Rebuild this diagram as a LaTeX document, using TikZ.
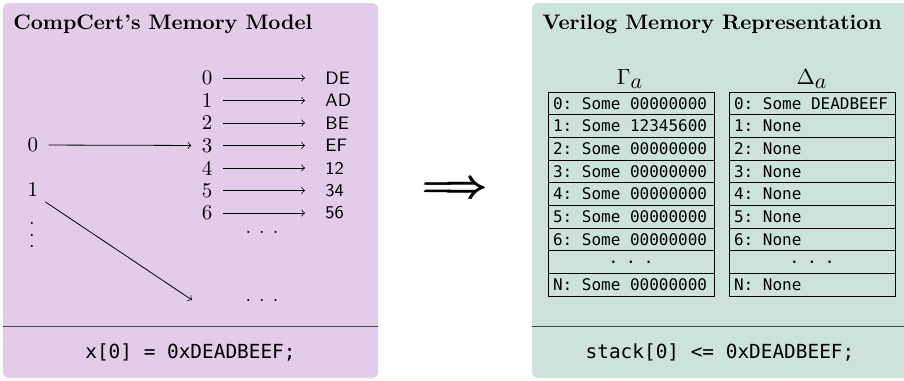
\documentclass[tikz,border=0pt]{standalone}
\usepackage{fontspec}
\usepackage{amsmath}
\usepackage{xcolor}
\usepackage{tikz}
\newfontfamily\codefont{DejaVu Sans Mono}
\definecolor{lilacbg}{RGB}{226,204,232}
\definecolor{mintbg}{RGB}{204,227,220}
\definecolor{rulegray}{RGB}{70,70,70}
\newcommand{\wdots}{.\hspace{4pt}.\hspace{4pt}.}
\newcommand{\cellt}[1]{\makebox[78pt][l]{#1}}
\tikzset{
  panel/.style={rounded corners=3pt},
  title/.style={anchor=base west, inner sep=0pt, font=\bfseries\fontsize{10.5}{12}\selectfont},
  addr/.style={inner sep=0pt, font=\fontsize{10.5}{12}\selectfont},
  byteval/.style={inner sep=0pt, anchor=west, font=\sffamily\fontsize{9}{10}\selectfont},
  ptr/.style={->, thin},
  memcell/.style={draw, line width=0.5pt, rectangle, minimum height=11.33pt, minimum width=83pt,
    inner xsep=2.5pt, inner ysep=0pt, font=\codefont\fontsize{8}{9}\selectfont\frenchspacing},
  code/.style={font=\codefont\fontsize{9.7}{12}\selectfont\frenchspacing},
  setname/.style={inner sep=0pt, font=\fontsize{11}{12}\selectfont},
}
\begin{document}
\begin{tikzpicture}[x=0.5pt,y=-0.5pt]
\useasboundingbox (0,0) rectangle (904,380);
%PANELS
\fill[panel, lilacbg] (3,3) rectangle (378,378);
\fill[panel, mintbg] (532,3) rectangle (912,378);
\draw[rulegray] (3,326) -- (378,326);
\draw[rulegray] (532,326) -- (904,326);
\node[title] (lefttitle) at (13,29) {CompCert's Memory Model};
\node[title] (righttitle) at (542,29) {Verilog Memory Representation};
%LEFT
\foreach \v [count=\i from 0] in {DE,AD,BE,EF,12,34,56} {
  \node[addr] (a\i) at (207,78+22.5*\i) {\i};
  \node[byteval] (b\i) at (325,78+22.5*\i) {\v};
  \draw[ptr, shorten <=5pt, shorten >=10pt] (a\i) -- (b\i);
}
\node[inner sep=0pt] (more1) at (262,232) {\wdots};
\node[inner sep=0pt] (more2) at (262,300) {\wdots};
\node[addr] (p0) at (33,145) {0};
\node[addr] (p1) at (33,190) {1};
\node[align=center, inner sep=0pt, font=\fontsize{10}{5.8}\selectfont] (pdots) at (32,235) {.\\.\\.};
\coordinate (blk1) at (192,300);
\draw[ptr, shorten <=5pt, shorten >=5pt] (p0) -- (a3);
\draw[ptr, shorten <=4pt] (p1.south east) -- (blk1);
\node[code] (leftcode) at (190.5,352) {x[0] = 0xDEADBEEF;};
% Arrow
\node[font=\fontsize{20}{22}\selectfont] (impl) at (456,190) {$\pmb{\Longrightarrow}$};
%RIGHT
\node[setname] (gname) at (630,79) {$\Gamma_{\textstyle a}$};
\node[setname] (dname) at (812,79) {$\Delta_{\textstyle a}$};
\foreach \t [count=\i from 0] in {Some 00000000,Some 12345600,Some 00000000,Some 00000000,Some 00000000,Some 00000000,Some 00000000} {
  \node[memcell] (g\i) at (631,103.33+22.67*\i) {\cellt{\i: \t}};
}
\foreach \t [count=\i from 0] in {Some DEADBEEF,None,None,None,None,None,None} {
  \node[memcell] (d\i) at (812,103.33+22.67*\i) {\cellt{\i: \t}};
}
\node[memcell] (g7) at (631,262) {\wdots};
\node[memcell] (g8) at (631,284.7) {\cellt{N: Some 00000000}};
\node[memcell] (d7) at (812,262) {\wdots};
\node[memcell] (d8) at (812,284.7) {\cellt{N: None}};
\node[code] (rightcode) at (720,352) {stack[0] <= 0xDEADBEEF;};
\end{tikzpicture}
\end{document}
